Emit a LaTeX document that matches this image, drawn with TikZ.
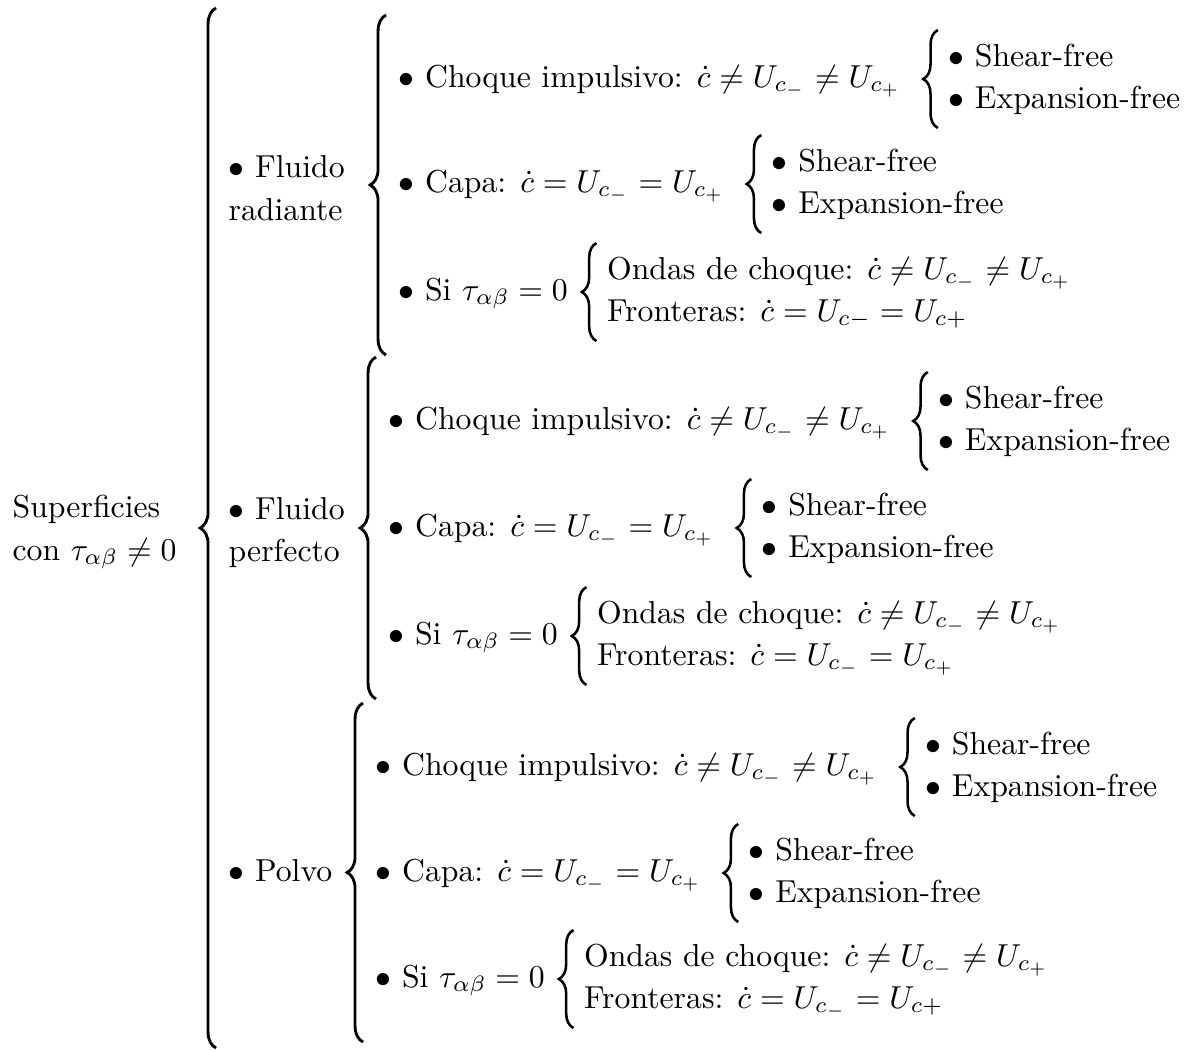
\documentclass[tikz,border=0pt]{standalone}
\usepackage{amsmath,amssymb}
\usetikzlibrary{decorations.pathreplacing,calc}

\begin{document}
\begin{tikzpicture}[
  x=0.315pt, y=-0.315pt,
  txt/.style={anchor=base west, inner sep=0pt},
  brc/.style={decorate, decoration={brace, amplitude=5pt}, line width=0.9pt},
  sbrc/.style={decorate, decoration={brace, amplitude=4.6pt}, line width=0.8pt}
]
\useasboundingbox (0,0) rectangle (1190,1050);

% Root
\node[txt] (sup)  at (12,517) {Superficies};
\node[txt] (supb) at (12,560) {con $\tau_{\alpha\beta}\neq 0$};

% First level
\node[txt] (rad)  at (228,177) {$\bullet$ Fluido};
\node[txt] (radb) at (228,220) {radiante};
\node[txt] (per)  at (228,519) {$\bullet$ Fluido};
\node[txt] (perb) at (228,561) {perfecto};
\node[txt] (pol)  at (228,881) {$\bullet$ Polvo};

% Second level: fluido radiante
\node[txt] (ra1) at (398,87)  {$\bullet$ Choque impulsivo: $\dot{c}\neq U_{c_-}\neq U_{c_+}$};
\node[txt] (ra2) at (398,192) {$\bullet$ Capa: $\dot{c}=U_{c_-}=U_{c_+}$};
\node[txt] (ra3) at (398,300) {$\bullet$ Si $\tau_{\alpha\beta}=0$};

% Second level: fluido perfecto
\node[txt] (pe1) at (388,429) {$\bullet$ Choque impulsivo: $\dot{c}\neq U_{c_-}\neq U_{c_+}$};
\node[txt] (pe2) at (388,536) {$\bullet$ Capa: $\dot{c}=U_{c_-}=U_{c_+}$};
\node[txt] (pe3) at (388,644) {$\bullet$ Si $\tau_{\alpha\beta}=0$};

% Second level: polvo
\node[txt] (po1) at (375,775) {$\bullet$ Choque impulsivo: $\dot{c}\neq U_{c_-}\neq U_{c_+}$};
\node[txt] (po2) at (375,881) {$\bullet$ Capa: $\dot{c}=U_{c_-}=U_{c_+}$};
\node[txt] (po3) at (375,987) {$\bullet$ Si $\tau_{\alpha\beta}=0$};

% Leaves
\node[txt] (ra1a) at ($(ra1.base east)+(46,-21)$) {$\bullet$ Shear-free};
\node[txt] (ra1b) at ($(ra1.base east)+(46,21)$)  {$\bullet$ Expansion-free};
\node[txt] (ra2a) at ($(ra2.base east)+(46,-21)$) {$\bullet$ Shear-free};
\node[txt] (ra2b) at ($(ra2.base east)+(46,21)$)  {$\bullet$ Expansion-free};
\node[txt] (ra3a) at ($(ra3.base east)+(38,-21)$) {Ondas de choque: $\dot{c}\neq U_{c_-}\neq U_{c_+}$};
\node[txt] (ra3b) at ($(ra3.base east)+(38,21)$)  {Fronteras: $\dot{c}=U_{c-}=U_{c+}$};

\node[txt] (pe1a) at ($(pe1.base east)+(46,-21)$) {$\bullet$ Shear-free};
\node[txt] (pe1b) at ($(pe1.base east)+(46,21)$)  {$\bullet$ Expansion-free};
\node[txt] (pe2a) at ($(pe2.base east)+(46,-21)$) {$\bullet$ Shear-free};
\node[txt] (pe2b) at ($(pe2.base east)+(46,21)$)  {$\bullet$ Expansion-free};
\node[txt] (pe3a) at ($(pe3.base east)+(38,-21)$) {Ondas de choque: $\dot{c}\neq U_{c_-}\neq U_{c_+}$};
\node[txt] (pe3b) at ($(pe3.base east)+(38,21)$)  {Fronteras: $\dot{c}=U_{c_-}=U_{c_+}$};

\node[txt] (po1a) at ($(po1.base east)+(46,-21)$) {$\bullet$ Shear-free};
\node[txt] (po1b) at ($(po1.base east)+(46,21)$)  {$\bullet$ Expansion-free};
\node[txt] (po2a) at ($(po2.base east)+(46,-21)$) {$\bullet$ Shear-free};
\node[txt] (po2b) at ($(po2.base east)+(46,21)$)  {$\bullet$ Expansion-free};
\node[txt] (po3a) at ($(po3.base east)+(38,-21)$) {Ondas de choque: $\dot{c}\neq U_{c_-}\neq U_{c_+}$};
\node[txt] (po3b) at ($(po3.base east)+(38,21)$)  {Fronteras: $\dot{c}=U_{c_-}=U_{c+}$};

% Big brace
\coordinate (bigx)   at ($(rad.base west)+(-12,0)$);
\coordinate (bigtop) at ($(ra1.base west)+(0,-79)$);
\coordinate (bigbot) at ($(po3.base west)+(0,61)$);
\draw[brc] (bigx |- bigbot) -- (bigx |- bigtop);

% First level braces
\draw[brc] ($(ra3.base west)+(-12,55)$) -- ($(ra1.base west)+(-12,-72)$);
\draw[brc] ($(pe3.base west)+(-12,55)$) -- ($(pe1.base west)+(-12,-72)$);
\draw[brc] ($(po3.base west)+(-12,55)$) -- ($(po1.base west)+(-12,-72)$);

% Leaf braces
\draw[sbrc] ($(ra1b.base west)+(-10,20)$) -- ($(ra1a.base west)+(-10,-36)$);
\draw[sbrc] ($(ra2b.base west)+(-10,20)$) -- ($(ra2a.base west)+(-10,-36)$);
\draw[sbrc] ($(ra3b.base west)+(-10,20)$) -- ($(ra3a.base west)+(-10,-36)$);
\draw[sbrc] ($(pe1b.base west)+(-10,20)$) -- ($(pe1a.base west)+(-10,-36)$);
\draw[sbrc] ($(pe2b.base west)+(-10,20)$) -- ($(pe2a.base west)+(-10,-36)$);
\draw[sbrc] ($(pe3b.base west)+(-10,20)$) -- ($(pe3a.base west)+(-10,-36)$);
\draw[sbrc] ($(po1b.base west)+(-10,20)$) -- ($(po1a.base west)+(-10,-36)$);
\draw[sbrc] ($(po2b.base west)+(-10,20)$) -- ($(po2a.base west)+(-10,-36)$);
\draw[sbrc] ($(po3b.base west)+(-10,20)$) -- ($(po3a.base west)+(-10,-36)$);

\end{tikzpicture}
\end{document}
